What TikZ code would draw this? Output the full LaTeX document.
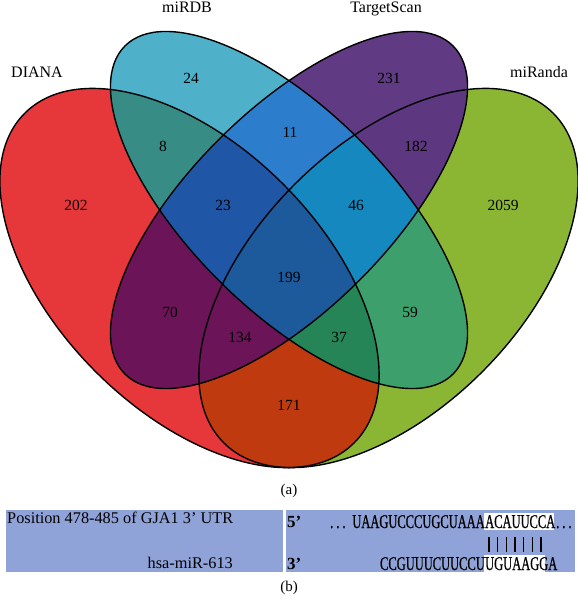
\documentclass[tikz,border=0pt]{standalone}
\usepackage{fontspec}
\setmainfont{Liberation Serif}
\newfontfamily\seqfont[FakeStretch=0.64,FakeBold=0.6]{Liberation Serif}
\definecolor{cD}{HTML}{E6373B}
\definecolor{cM}{HTML}{4FB0C9}
\definecolor{cT}{HTML}{603A82}
\definecolor{cR}{HTML}{8BB634}
\definecolor{cDM}{HTML}{388C86}
\definecolor{cDT}{HTML}{6B1558}
\definecolor{cDR}{HTML}{BF3A0E}
\definecolor{cMT}{HTML}{2C7ECC}
\definecolor{cMR}{HTML}{3DA06C}
\definecolor{cTR}{HTML}{5D3880}
\definecolor{cDMT}{HTML}{1F56A6}
\definecolor{cDMR}{HTML}{268556}
\definecolor{cDTR}{HTML}{6B1558}
\definecolor{cMTR}{HTML}{1688C0}
\definecolor{cAll}{HTML}{1C5A9C}
\definecolor{tabblue}{HTML}{8FA3D8}
\newcommand\ellD[1]{#1[rotate around={-45:(oD)}] (oD) ellipse [x radius=233, y radius=132.6];}
\newcommand\ellM[1]{#1[rotate around={-45:(oM)}] (oM) ellipse [x radius=232, y radius=99.5];}
\newcommand\ellT[1]{#1[rotate around={45:(oT)}] (oT) ellipse [x radius=232, y radius=99.5];}
\newcommand\ellR[1]{#1[rotate around={45:(oR)}] (oR) ellipse [x radius=233, y radius=132.6];}
\begin{document}
\begin{tikzpicture}[x=1pt,y=-1pt,
  outl/.style={draw=black,line width=1.4pt},
  num/.style={font=\fontsize{15.5}{18}\selectfont,inner sep=0pt},
  setlab/.style={font=\fontsize{16}{19}\selectfont,inner sep=0pt,anchor=base},
  captxt/.style={font=\fontsize{15}{18}\selectfont,inner sep=0pt},
  seq/.style={font=\seqfont\fontsize{19.5}{22}\selectfont,inner sep=0pt},
  tabtxt/.style={font=\fontsize{16.3}{19}\selectfont,inner sep=0pt},
  hl/.style={fill=white,draw=none},
  pairline/.style={line width=1.6pt}]
\useasboundingbox (0,0) rectangle (578,603);
\coordinate (oD) at (189.5,278);
\coordinate (oM) at (289,210);
\coordinate (oT) at (289,210);
\coordinate (oR) at (388.5,278);
% single sets
\ellD{\fill[cD]}
\ellR{\fill[cR]}
\ellM{\fill[cM]}
\ellT{\fill[cT]}
% pairs
\begin{scope}\ellD{\clip}\ellM{\fill[cDM]}\end{scope}
\begin{scope}\ellD{\clip}\ellT{\fill[cDT]}\end{scope}
\begin{scope}\ellD{\clip}\ellR{\fill[cDR]}\end{scope}
\begin{scope}\ellM{\clip}\ellT{\fill[cMT]}\end{scope}
\begin{scope}\ellM{\clip}\ellR{\fill[cMR]}\end{scope}
\begin{scope}\ellT{\clip}\ellR{\fill[cTR]}\end{scope}
% triples
\begin{scope}\ellD{\clip}\ellM{\clip}\ellT{\fill[cDMT]}\end{scope}
\begin{scope}\ellD{\clip}\ellM{\clip}\ellR{\fill[cDMR]}\end{scope}
\begin{scope}\ellD{\clip}\ellT{\clip}\ellR{\fill[cDTR]}\end{scope}
\begin{scope}\ellM{\clip}\ellT{\clip}\ellR{\fill[cMTR]}\end{scope}
% all four
\begin{scope}\ellD{\clip}\ellM{\clip}\ellT{\clip}\ellR{\fill[cAll]}\end{scope}
% outlines
\ellD{\draw[outl]}
\ellM{\draw[outl]}
\ellT{\draw[outl]}
\ellR{\draw[outl]}
% set labels
\node[setlab] (lD) at (37,77) {DIANA};
\node[setlab] (lM) at (187,12) {miRDB};
\node[setlab] (lT) at (386,12) {TargetScan};
\node[setlab] (lR) at (539,77) {miRanda};
% counts
\node[num] (n24) at (191,78) {24};
\node[num] (n231) at (389,78) {231};
\node[num] (n8) at (163,146) {8};
\node[num] (n11) at (290,132) {11};
\node[num] (n182) at (416,146) {182};
\node[num] (n202) at (76,205) {202};
\node[num] (n23) at (223,205) {23};
\node[num] (n46) at (356,205) {46};
\node[num] (n2059) at (503,205) {2059};
\node[num] (n199) at (289,277) {199};
\node[num] (n70) at (170,312) {70};
\node[num] (n59) at (410,312) {59};
\node[num] (n134) at (240,337) {134};
\node[num] (n37) at (339,337) {37};
\node[num] (n171) at (289,405) {171};
\node[captxt] (capa) at (289,491) {(a)};
% table (b)
\fill[tabblue] (5.5,510) rectangle (283,572);
\fill[tabblue] (285.5,510) rectangle (575,572);
\node[tabtxt,anchor=base west] (pos) at (7,523) {Position 478-485 of GJA1 3’ UTR};
\node[tabtxt,anchor=base east] (mir) at (233,568) {hsa-miR-613};
\node[tabtxt,anchor=base west,font=\fontsize{17}{19}\selectfont\bfseries] (p5) at (287,527) {5’};
\node[tabtxt,anchor=base west,font=\fontsize{17}{19}\selectfont\bfseries] (p3) at (287,569) {3’};
\fill[hl] (484,513) rectangle (554,530);
\fill[hl] (484,555) rectangle (545,572);
\node[seq,anchor=base west] (dl) at (330,528) {.\kern3pt.\kern3pt.};
\node[seq,anchor=base east] (s1a) at (485,528) {UAAGUCCCUGCUAAA};
\node[seq,anchor=base west] (s1b) at (485,528) {ACAUUCCA};
\node[seq,anchor=base west] (dr) at (556,528) {.\kern3pt.\kern3pt.};
\node[seq,anchor=base east] (s2a) at (485,570) {CCGUUUCUUCCU};
\node[seq,anchor=base west] (s2b) at (485,570) {UGUAAGGA};
\foreach \i in {0,...,6} {
  \coordinate (bt\i) at ({489+8.67*\i},537);
  \coordinate (bb\i) at ({489+8.67*\i},552);
  \draw[pairline] (bt\i) -- (bb\i);
}
\node[captxt] (capb) at (289,588) {(b)};
\end{tikzpicture}
\end{document}
